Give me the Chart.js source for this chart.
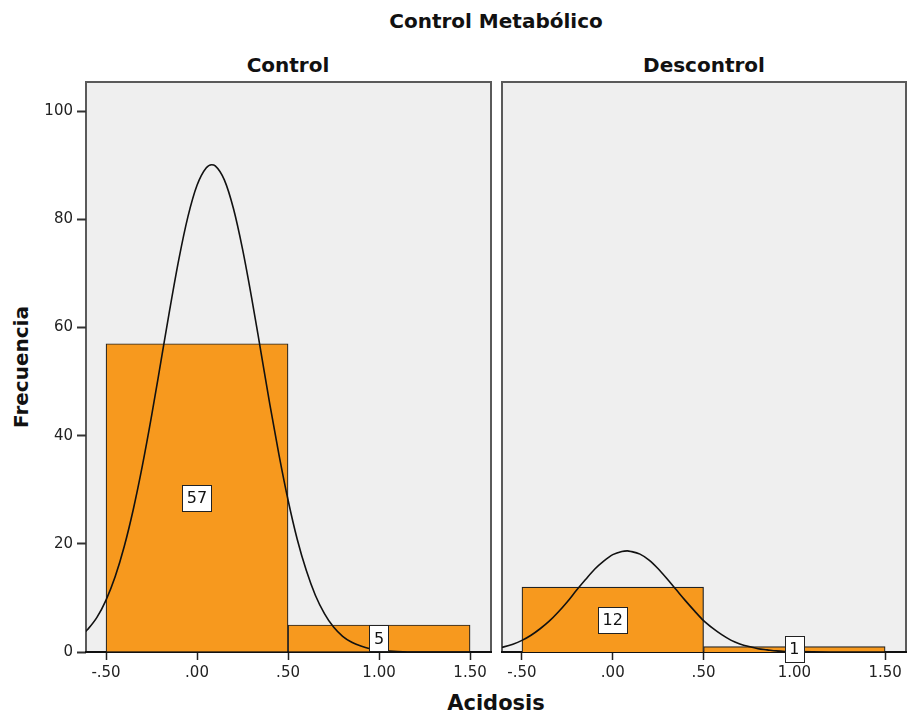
<!DOCTYPE html>
<html>
<head>
<meta charset="utf-8">
<title>Control Metabólico</title>
<script src="https://cdn.jsdelivr.net/npm/chart.js@4.4.0/dist/chart.umd.min.js"></script>
<style>
  body { margin:0; background:#fff; width:907px; height:714px; overflow:hidden; position:relative; font-family:"DejaVu Sans", sans-serif; }
  .t { position:absolute; transform:translate(-50%,-50%); font-weight:bold; font-size:20px; color:#111; white-space:nowrap; }
  #yTitle { transform:translate(-50%,-50%) rotate(-90deg); }
  #c1 { position:absolute; left:0; top:0; }
  #c2 { position:absolute; left:495px; top:0; }
</style>
</head>
<body>
<div class="t" style="left:496px;top:21px">Control Metabólico</div>
<div class="t" style="left:288px;top:65px">Control</div>
<div class="t" style="left:704px;top:65px">Descontrol</div>
<div class="t" style="left:496px;top:703px;font-size:21px">Acidosis</div>
<div class="t" id="yTitle" style="left:21px;top:367px">Frecuencia</div>
<canvas id="c1" width="500" height="714"></canvas>
<canvas id="c2" width="412" height="714"></canvas>
<script>
// datos del histograma (intervalos de ancho 1 centrados en 0 y 1)
const binCenters = [0, 1];
const controlCounts = [57, 5];
const descontrolCounts = [12, 1];

// curva normal
const curveX = [-0.62, -0.6, -0.55, -0.5, -0.45, -0.4, -0.35, -0.3, -0.25, -0.2, -0.15, -0.1, -0.05, 0, 0.05, 0.08, 0.1, 0.15, 0.2, 0.25, 0.3, 0.35, 0.4, 0.45, 0.5, 0.55, 0.6, 0.65, 0.7, 0.75, 0.8, 0.85, 0.9, 0.95, 1.0, 1.1, 1.2, 1.3, 1.4, 1.5, 1.62];
const controlCurve = [3.5, 4.2, 6.4, 9.6, 13.9, 19.5, 26.4, 34.5, 43.6, 53.4, 63.3, 72.6, 80.5, 86.3, 89.5, 90.1, 89.9, 87.3, 82.0, 74.5, 65.5, 55.7, 45.8, 36.5, 28.1, 20.9, 15.1, 10.5, 7.1, 4.6, 2.9, 1.8, 1.1, 0.6, 0.3, 0.1, 0, 0, 0, 0, 0];
const descontrolCurve = [0.8, 0.95, 1.45, 2.15, 3.1, 4.3, 5.7, 7.4, 9.3, 11.4, 13.4, 15.3, 16.8, 18.0, 18.6, 18.7, 18.6, 18.1, 17.0, 15.4, 13.5, 11.5, 9.5, 7.6, 5.8, 4.4, 3.2, 2.2, 1.5, 1.0, 0.6, 0.4, 0.2, 0.1, 0.07, 0.02, 0, 0, 0, 0, 0];

// ejes
const xTickValues = [-0.5, 0, 0.5, 1, 1.5];
const xTickLabels = ["-.50", ".00", ".50", "1.00", "1.50"];
const yTickValues = [0, 20, 40, 60, 80, 100];
const yTickLabels = ["0", "20", "40", "60", "80", "100"];

const BAR_COLOR = "#f7991e";
const FONT = "'DejaVu Sans', sans-serif";

// fondo gris del panel y marco
const panelPlugin = {
  id: "panel",
  beforeDraw(chart){
    const a = chart.chartArea, ctx = chart.ctx;
    ctx.save();
    ctx.fillStyle = "#efefef";
    ctx.fillRect(a.left, a.top, a.right - a.left, a.bottom - a.top);
    ctx.strokeStyle = "#5a5a5a";
    ctx.lineWidth = 2;
    ctx.strokeRect(a.left, a.top, a.right - a.left, a.bottom - a.top);
    ctx.restore();
  }
};

// etiquetas con el conteo dentro de cada barra
const countLabels = {
  id: "countLabels",
  afterDatasetsDraw(chart){
    const ctx = chart.ctx;
    const xs = chart.scales.x, ys = chart.scales.y;
    const counts = chart.data.datasets[1].data;
    ctx.save();
    ctx.font = "16px " + FONT;
    ctx.textAlign = "center";
    ctx.textBaseline = "middle";
    counts.forEach(p => {
      const cx = xs.getPixelForValue(p.x);
      const cy = ys.getPixelForValue(p.y / 2);
      const txt = String(p.y);
      const w = ctx.measureText(txt).width + 9;
      const h = 26;
      ctx.fillStyle = "#fff";
      ctx.fillRect(Math.round(cx - w / 2) + 0.5, Math.round(cy - h / 2) + 0.5, Math.round(w), h);
      ctx.strokeStyle = "#222";
      ctx.lineWidth = 1;
      ctx.strokeRect(Math.round(cx - w / 2) + 0.5, Math.round(cy - h / 2) + 0.5, Math.round(w), h);
      ctx.fillStyle = "#111";
      ctx.fillText(txt, cx, cy + 1);
    });
    ctx.restore();
  }
};

function makePanel(canvasId, counts, curve, showY, padding){
  return new Chart(document.getElementById(canvasId), {
    type: "bar",
    data: {
      datasets: [
        {
          type: "line",
          data: curveX.map((x, i) => ({ x: x, y: curve[i] })),
          borderColor: "#111",
          borderWidth: 1.6,
          pointRadius: 0,
          cubicInterpolationMode: "monotone",
          fill: false,
          order: 0
        },
        {
          type: "bar",
          data: binCenters.map((x, i) => ({ x: x, y: counts[i] })),
          backgroundColor: BAR_COLOR,
          borderColor: "#222",
          borderWidth: 1.2,
          barThickness: "flex",
          categoryPercentage: 1,
          barPercentage: 1,
          order: 1
        }
      ]
    },
    options: {
      responsive: false,
      animation: false,
      layout: { padding: padding },
      plugins: { legend: { display: false }, tooltip: { enabled: false } },
      scales: {
        x: {
          type: "linear",
          offset: false,
          min: -0.61,
          max: 1.615,
          afterBuildTicks: s => { s.ticks = xTickValues.map(v => ({ value: v })); },
          afterFit: s => { s.height = 62; },
          ticks: {
            autoSkip: false,
            maxRotation: 0,
            padding: 4,
            color: "#222",
            font: { family: FONT, size: 15 },
            callback: v => xTickLabels[xTickValues.indexOf(v)]
          },
          grid: { offset: false, drawOnChartArea: false, drawTicks: true, tickLength: 8, tickColor: "#222", tickWidth: 1.5 },
          border: { display: true, color: "#111", width: 2 }
        },
        y: {
          display: showY,
          min: 0,
          max: 105.4,
          afterBuildTicks: s => { s.ticks = yTickValues.map(v => ({ value: v })); },
          afterFit: s => { if (showY) s.width = 86; },
          ticks: {
            padding: 4,
            color: "#222",
            font: { family: FONT, size: 15 },
            callback: v => yTickLabels[yTickValues.indexOf(v)]
          },
          grid: { drawOnChartArea: false, drawTicks: true, tickLength: 9, tickColor: "#333", tickWidth: 2 },
          border: { display: false }
        }
      }
    },
    plugins: [panelPlugin, countLabels]
  });
}

makePanel("c1", controlCounts, controlCurve, true, { left: 0, right: 9, top: 82, bottom: 0 });
makePanel("c2", descontrolCounts, descontrolCurve, false, { left: 7, right: 1, top: 82, bottom: 0 });
</script>
</body>
</html>
